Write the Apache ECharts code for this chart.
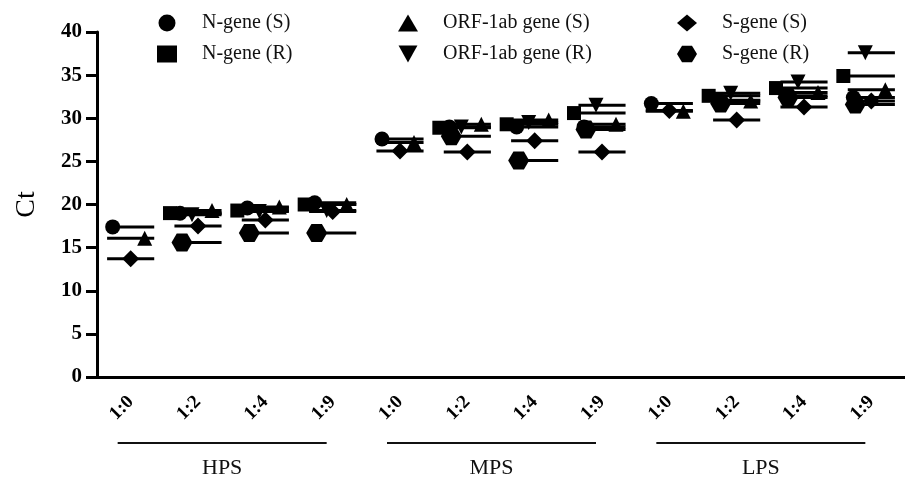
<!DOCTYPE html>
<html>
<head>
<meta charset="utf-8">
<script src="https://cdn.jsdelivr.net/npm/echarts@6/dist/echarts.min.js"></script>
<style>
  html, body { margin: 0; padding: 0; background: #fff; }
  #main { width: 905px; height: 480px; }
</style>
</head>
<body>
<div id="main"></div>
<script>
// Ct values per dilution ratio (null = no R strain at 1:0)
const ratios = ['1:0', '1:2', '1:4', '1:9', '1:0', '1:2', '1:4', '1:9', '1:0', '1:2', '1:4', '1:9'];
const groupNames = ['HPS', 'MPS', 'LPS'];
const groupSpans = [[0, 3], [4, 7], [8, 11]];
const yTicks = [0, 5, 10, 15, 20, 25, 30, 35, 40];

const nGeneS = [17.4, 19.0, 19.6, 20.2, 27.6, 29.0, 29.0, 29.0, 31.7, 32.1, 32.6, 32.4];
const nGeneR = [null, 19.0, 19.3, 20.0, null, 28.9, 29.3, 30.6, null, 32.6, 33.5, 34.9];
const orfS = [16.1, 19.3, 19.7, 20.0, 27.2, 29.3, 29.8, 29.3, 30.8, 32.0, 33.0, 33.3];
const orfR = [null, 18.8, 19.2, 19.3, null, 29.0, 29.5, 31.5, null, 32.9, 34.2, 37.6];
const sGeneS = [13.7, 17.5, 18.2, 19.2, 26.2, 26.1, 27.4, 26.1, 30.9, 29.8, 31.3, 32.0];
const sGeneR = [null, 15.6, 16.7, 16.7, null, 27.9, 25.1, 28.7, null, 31.7, 32.4, 31.6];

const serif = '"Liberation Serif", "DejaVu Serif", serif';
const hexagon = 'path://M0,5 L3,0 L9,0 L12,5 L9,10 L3,10 Z';
const downTri = 'path://M0,0 L10,0 L5,9 Z';

const seriesDefs = [
  { name: 'N-gene (S)', values: nGeneS, symbol: 'circle', size: 15, offset: -18 },
  { name: 'N-gene (R)', values: nGeneR, symbol: 'rect', size: 14, offset: -28 },
  { name: 'ORF-1ab gene (S)', values: orfS, symbol: 'triangle', size: 15, offset: 14 },
  { name: 'ORF-1ab gene (R)', values: orfR, symbol: downTri, size: 15, offset: -6 },
  { name: 'S-gene (S)', values: sGeneS, symbol: 'diamond', size: 17, offset: 0 },
  { name: 'S-gene (R)', values: sGeneR, symbol: hexagon, size: [21, 18], offset: -16 }
];

const chart = echarts.init(document.getElementById('main'));

// mean lines: one short bar per series per ratio
const meanData = [];
seriesDefs.forEach(s => {
  s.values.forEach((v, i) => { if (v != null) meanData.push([i, v]); });
});

const scatterSeries = seriesDefs.map(s => ({
  name: s.name,
  type: 'scatter',
  symbol: s.symbol,
  symbolSize: s.size,
  symbolOffset: [s.offset, 0],
  itemStyle: { color: '#000', opacity: 1 },
  z: 3,
  data: s.values
}));

const legendBase = {
  orient: 'vertical',
  top: 8,
  itemGap: 11,
  itemWidth: 20,
  itemHeight: 17,
  itemStyle: { opacity: 1 },
  textStyle: { fontFamily: serif, fontSize: 20, color: '#111', padding: [0, 0, 0, 20] }
};

const option = {
  animation: false,
  backgroundColor: '#fff',
  legend: [
    Object.assign({}, legendBase, { left: 152, data: ['N-gene (S)', 'N-gene (R)'] }),
    Object.assign({}, legendBase, { left: 393, data: ['ORF-1ab gene (S)', 'ORF-1ab gene (R)'] }),
    Object.assign({}, legendBase, { left: 672, data: ['S-gene (S)', 'S-gene (R)'] })
  ],
  grid: { left: 97, right: -11, top: 32, bottom: 103 },
  xAxis: {
    type: 'category',
    data: ratios,
    boundaryGap: true,
    axisLine: { lineStyle: { color: '#000', width: 3 } },
    axisTick: { alignWithLabel: true, length: 10, lineStyle: { color: '#000', width: 3 } },
    axisLabel: {
      interval: 0, rotate: 45, margin: 22,
      fontFamily: serif, fontWeight: 'bold', fontSize: 19, color: '#000'
    }
  },
  yAxis: {
    type: 'value',
    min: 0, max: 40, interval: 5,
    name: 'Ct',
    nameLocation: 'middle',
    nameGap: 56,
    nameTextStyle: { fontFamily: serif, fontSize: 28, color: '#000' },
    splitLine: { show: false },
    axisLine: { show: true, lineStyle: { color: '#000', width: 3 } },
    axisTick: { show: true, length: 11, lineStyle: { color: '#000', width: 3 } },
    axisLabel: {
      margin: 15,
      fontFamily: serif, fontWeight: 'bold', fontSize: 21, color: '#000',
      formatter: v => (yTicks.includes(v) ? String(v) : '')
    }
  },
  series: scatterSeries.concat([
    {
      type: 'custom',
      name: 'mean',
      z: 2,
      renderItem: (params, api) => {
        const p = api.coord([api.value(0), api.value(1)]);
        const half = api.size([1, 0])[0] * 0.35;
        return {
          type: 'line',
          shape: { x1: p[0] - half, y1: p[1], x2: p[0] + half, y2: p[1] },
          style: { stroke: '#000', lineWidth: 3 }
        };
      },
      data: meanData
    },
    {
      type: 'custom',
      name: 'groups',
      silent: true,
      clip: false,
      renderItem: (params, api) => {
        const a = api.coord([api.value(0), 0]);
        const b = api.coord([api.value(2), 0]);
        const x1 = a[0] - 13, x2 = b[0] - 6;
        const y = a[1] + 66;
        return {
          type: 'group',
          children: [
            { type: 'line', shape: { x1, y1: y, x2, y2: y }, style: { stroke: '#111', lineWidth: 2 } },
            {
              type: 'text',
              style: {
                text: groupNames[params.dataIndex], x: (x1 + x2) / 2, y: y + 14,
                textAlign: 'center', textVerticalAlign: 'top',
                font: '22px ' + serif, fill: '#111'
              }
            }
          ]
        };
      },
      data: groupSpans.map(g => [g[0], 0, g[1]])
    }
  ])
};

chart.setOption(option);
</script>
</body>
</html>
